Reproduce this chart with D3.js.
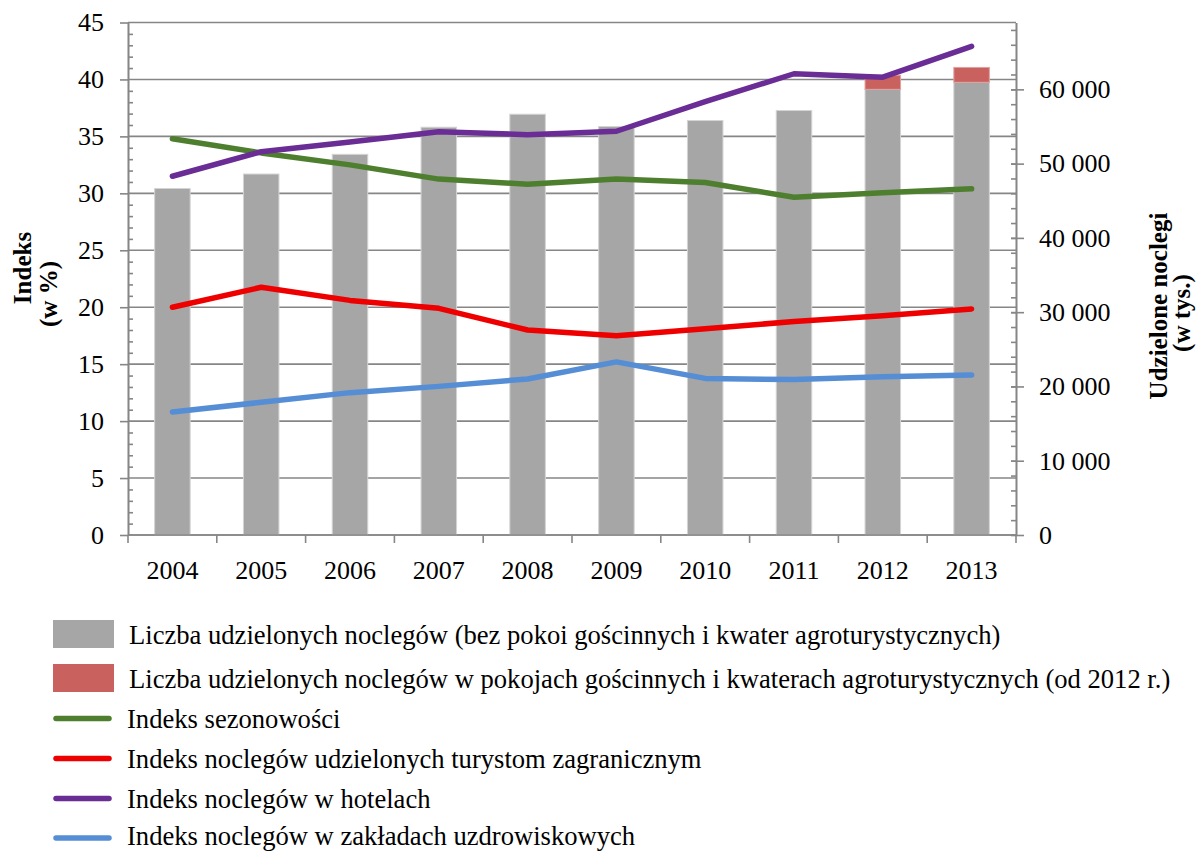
<!DOCTYPE html>
<html>
<head>
<meta charset="utf-8">
<script src="https://cdn.jsdelivr.net/npm/d3@7"></script>
<style>
  html, body { margin: 0; padding: 0; background: #fff; }
  svg { display: block; }
  svg text { font-family: "Liberation Serif", "Times New Roman", serif; fill: #000; }
</style>
</head>
<body>
<svg id="chart" width="1196" height="851"></svg>
<script>
// Years on the category axis
const years = ["2004", "2005", "2006", "2007", "2008", "2009", "2010", "2011", "2012", "2013"];

// Overnight stays in thousands (right axis)
const staysBase = [46650, 48600, 51250, 54900, 56650, 55000, 55800, 57150, 60000, 60950];
const staysAgro = [0, 0, 0, 0, 0, 0, 0, 0, 1900, 2000];

// Indices in % (left axis)
const seasonality = [34.8, 33.55, 32.5, 31.25, 30.8, 31.25, 30.95, 29.65, 30.05, 30.4];
const foreignTourists = [20.0, 21.75, 20.6, 19.9, 18.0, 17.5, 18.1, 18.75, 19.25, 19.85];
const hotels = [31.5, 33.65, 34.5, 35.4, 35.15, 35.45, 38.05, 40.5, 40.2, 42.9];
const spas = [10.8, 11.65, 12.5, 13.05, 13.7, 15.2, 13.75, 13.65, 13.9, 14.05];

// Tick values
const leftTicks = [0, 5, 10, 15, 20, 25, 30, 35, 40, 45];
const rightTicks = [0, 10000, 20000, 30000, 40000, 50000, 60000];

const legendLabels = [
  "Liczba udzielonych noclegów (bez pokoi gościnnych i kwater agroturystycznych)",
  "Liczba udzielonych noclegów w pokojach gościnnych i kwaterach agroturystycznych (od 2012 r.)",
  "Indeks sezonowości",
  "Indeks noclegów udzielonych turystom zagranicznym",
  "Indeks noclegów w hotelach",
  "Indeks noclegów w zakładach uzdrowiskowych"
];

const colors = {
  base: "#a6a6a6",
  agro: "#c9625e",
  seasonality: "#4e7f2e",
  foreign: "#ee0000",
  hotels: "#6a2c95",
  spas: "#558ed5",
  axis: "#868686"
};

const serif = '"Liberation Serif", "Times New Roman", serif';
const svg = d3.select("#chart");
const plotLeft = 128, plotRight = 1016, plotTop = 22.5, plotBottom = 535;

const x = d3.scaleBand().domain(years).range([plotLeft, plotRight]).paddingInner(0.6).paddingOuter(0.3);
const yL = d3.scaleLinear().domain([0, 45]).range([plotBottom, plotTop]);
const yR = d3.scaleLinear().domain([0, 69000]).range([plotBottom, plotTop]);
const fmt = d => d === 0 ? "0" : d3.format(",")(d).replace(/,/g, "\u00a0");

// Horizontal gridlines
svg.append("g").selectAll("line").data(leftTicks).join("line")
  .attr("x1", plotLeft).attr("x2", plotRight)
  .attr("y1", d => yL(d)).attr("y2", d => yL(d))
  .attr("stroke", colors.axis).attr("stroke-width", 1.6);

// Stacked bars
const barG = svg.append("g");
barG.selectAll("rect.base").data(years).join("rect")
  .attr("class", "base")
  .attr("x", d => x(d)).attr("width", x.bandwidth())
  .attr("y", (d, i) => yR(staysBase[i]))
  .attr("height", (d, i) => yR(0) - yR(staysBase[i]))
  .attr("fill", colors.base).attr("stroke", "#d4d4d4").attr("stroke-width", 1);
barG.selectAll("rect.agro").data(years.filter((d, i) => staysAgro[i] > 0)).join("rect")
  .attr("class", "agro")
  .attr("x", d => x(d)).attr("width", x.bandwidth())
  .attr("y", d => { const i = years.indexOf(d); return yR(staysBase[i] + staysAgro[i]); })
  .attr("height", d => { const i = years.indexOf(d); return yR(staysBase[i]) - yR(staysBase[i] + staysAgro[i]); })
  .attr("fill", colors.agro).attr("stroke", "#e0a09e").attr("stroke-width", 1);

// Axes
const styleAxis = g => {
  g.attr("font-family", null).attr("font-size", null);
  g.select(".domain").attr("stroke", colors.axis).attr("stroke-width", 1.6);
  g.selectAll(".tick line").attr("stroke", colors.axis).attr("stroke-width", 1.6);
  g.selectAll("text").style("font-family", serif).style("font-size", "26px").style("fill", "#000");
};

// Left axis: major ticks outward, minor ticks inward
svg.append("g").attr("transform", `translate(${plotLeft},0)`)
  .call(d3.axisLeft(yL).tickValues(leftTicks).tickSize(8).tickPadding(16).tickSizeOuter(0))
  .call(styleAxis);
svg.append("g").attr("transform", `translate(${plotLeft},0)`)
  .call(d3.axisRight(yL).tickValues(d3.range(0, 46, 1).filter(v => v % 5 !== 0)).tickSize(5).tickFormat("").tickSizeOuter(0))
  .call(styleAxis);

// Right axis: major ticks crossing, minor ticks inward
svg.append("g").attr("transform", `translate(${plotRight},0)`)
  .call(d3.axisRight(yR).tickValues(rightTicks).tickSize(8).tickPadding(15).tickFormat(fmt).tickSizeOuter(0))
  .call(styleAxis)
  .call(g => g.selectAll(".tick line").attr("x1", -5));
svg.append("g").attr("transform", `translate(${plotRight},0)`)
  .call(d3.axisLeft(yR).tickValues(d3.range(2000, 69000, 2000)).tickSize(5).tickFormat("").tickSizeOuter(0))
  .call(styleAxis);

// Category axis with ticks at band boundaries
const xAxis = svg.append("g").attr("transform", `translate(0,${plotBottom})`)
  .call(d3.axisBottom(x).tickSize(0).tickPadding(26));
xAxis.call(styleAxis);
xAxis.select(".domain").attr("d", `M${plotLeft},0H${plotRight}`);
const step = x.step();
xAxis.selectAll("line.sep").data(d3.range(0, years.length + 1)).join("line")
  .attr("class", "sep")
  .attr("x1", i => plotLeft + i * step).attr("x2", i => plotLeft + i * step)
  .attr("y1", 0).attr("y2", 8)
  .attr("stroke", colors.axis).attr("stroke-width", 1.6);

// Index lines
const cx = d => x(d) + x.bandwidth() / 2;
const lineSeries = [
  { values: seasonality, color: colors.seasonality },
  { values: foreignTourists, color: colors.foreign },
  { values: hotels, color: colors.hotels },
  { values: spas, color: colors.spas }
];
const lineGen = d3.line().x(d => cx(d.year)).y(d => yL(d.v));
svg.append("g").selectAll("path").data(lineSeries).join("path")
  .attr("d", s => lineGen(years.map((y, i) => ({ year: y, v: s.values[i] }))))
  .attr("fill", "none").attr("stroke", s => s.color)
  .attr("stroke-width", 5.5).attr("stroke-linecap", "round").attr("stroke-linejoin", "round");

// Axis titles
const titleText = (cxPos, cyPos, str) => svg.append("text")
  .attr("transform", `translate(${cxPos},${cyPos}) rotate(-90)`)
  .attr("text-anchor", "middle").style("font-weight", "bold").style("font-size", "25px")
  .text(str);
titleText(31, 268, "Indeks");
titleText(57, 294, "(w %)");
titleText(1167, 306, "Udzielone noclegi");
titleText(1190, 313, "(w tys.)");

// Legend
const legend = svg.append("g");
const legendItems = [
  { type: "rect", color: colors.base, y: 634, tx: 129 },
  { type: "rect", color: colors.agro, y: 678, tx: 129 },
  { type: "line", color: colors.seasonality, y: 718.5, tx: 127 },
  { type: "line", color: colors.foreign, y: 758.5, tx: 127 },
  { type: "line", color: colors.hotels, y: 798.5, tx: 127 },
  { type: "line", color: colors.spas, y: 838, tx: 127 }
];
legendItems.forEach((it, i) => {
  if (it.type === "rect") {
    legend.append("rect").attr("x", 53).attr("y", it.y - 14).attr("width", 61).attr("height", 28).attr("fill", it.color);
  } else {
    legend.append("line").attr("x1", 56).attr("x2", 109).attr("y1", it.y).attr("y2", it.y)
      .attr("stroke", it.color).attr("stroke-width", 5.5).attr("stroke-linecap", "round");
  }
  legend.append("text").attr("x", it.tx).attr("y", Math.min(it.y + 9.5, 844.5))
    .style("font-size", "26.6px").text(legendLabels[i]);
});
</script>
</body>
</html>
